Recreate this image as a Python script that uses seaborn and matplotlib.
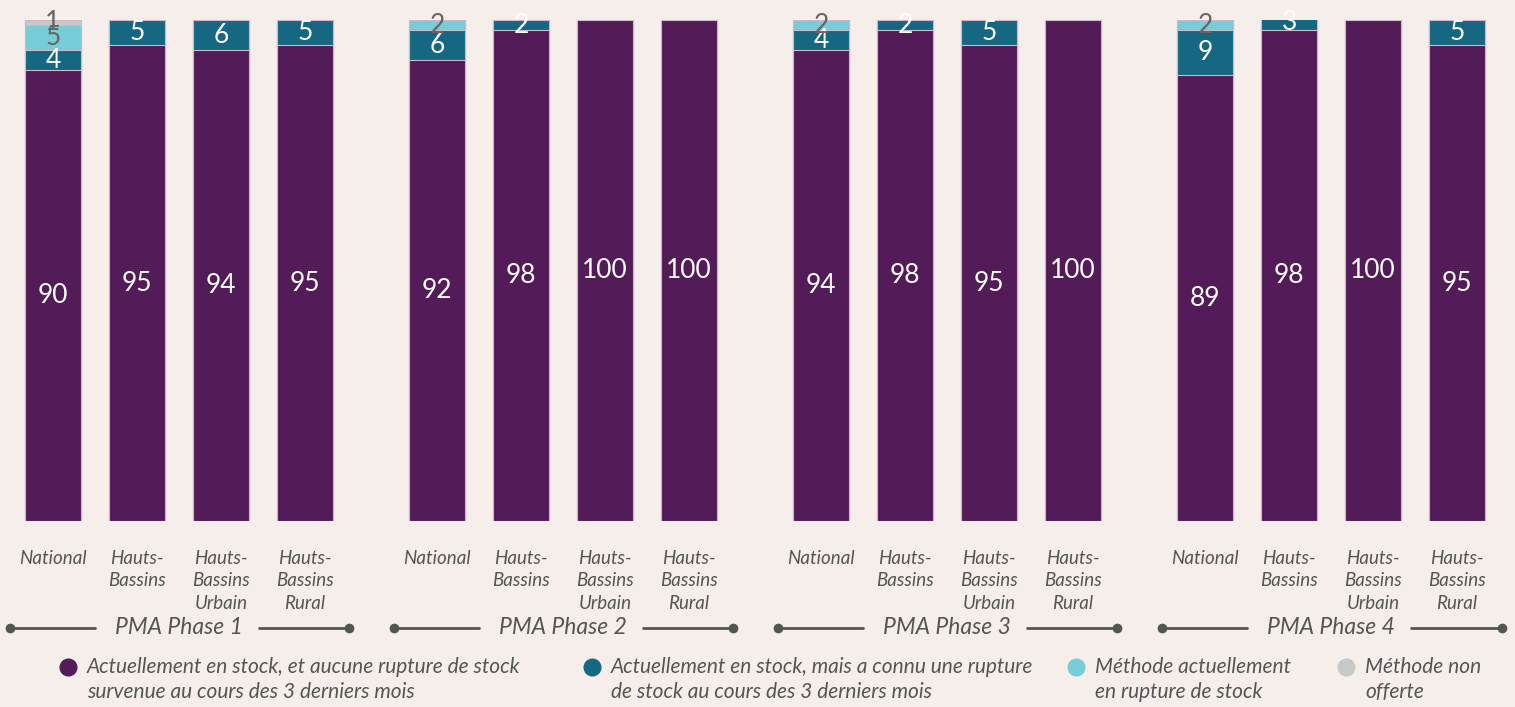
import numpy as np
import pandas as pd
import seaborn as sns
import matplotlib.pyplot as plt
from matplotlib.lines import Line2D
import matplotlib.transforms as mtransforms

# values
phases = ["PMA Phase 1", "PMA Phase 2", "PMA Phase 3", "PMA Phase 4"]
zones = ["National", "Hauts-\nBassins", "Hauts-\nBassins\nUrbain", "Hauts-\nBassins\nRural"]

en_stock = [90, 95, 94, 95, 92, 98, 100, 100, 94, 98, 95, 100, 89, 98, 100, 95]
rupture_passee = [4, 5, 6, 5, 6, 2, 0, 0, 4, 2, 5, 0, 9, 3, 0, 5]
rupture_actuelle = [5, 0, 0, 0, 2, 0, 0, 0, 2, 0, 0, 0, 2, 0, 0, 0]
non_offerte = [1, 0, 0, 0, 0, 0, 0, 0, 0, 0, 0, 0, 0, 0, 0, 0]

series_names = [
    "Actuellement en stock, et aucune rupture de stock\nsurvenue au cours des 3 derniers mois",
    "Actuellement en stock, mais a connu une rupture\nde stock au cours des 3 derniers mois",
    "Méthode actuellement\nen rupture de stock",
    "Méthode non\nofferte",
]
colors = ["#531b57", "#166882", "#76cdd8", "#c8c8c8"]
label_colors = ["white", "white", "#666666", "#666666"]

bg = "#f5eeeb"
txt = "#555555"

sns.set_theme(style="white")
plt.rcParams["font.family"] = ["Lato", "DejaVu Sans"]

# bar positions: 4 groups of 4, extra gap between groups
group_step = 4.575
pos = [g * group_step + j for g in range(len(phases)) for j in range(len(zones))]

df = pd.DataFrame({
    "pos": pos,
    "s0": en_stock,
    "s1": rupture_passee,
    "s2": rupture_actuelle,
    "s3": non_offerte,
})
cols = ["s0", "s1", "s2", "s3"]
cum = df[cols].cumsum(axis=1)

fig = plt.figure(figsize=(15.15, 7.07), dpi=100, facecolor=bg)
ax = fig.add_axes([0, 0.2631, 1, 0.7086])
ax.set_facecolor(bg)

# draw stacked bars by overlaying cumulative totals (largest first)
for k in range(3, -1, -1):
    sns.barplot(x=df["pos"], y=cum[cols[k]], native_scale=True, color=colors[k],
                saturation=1, width=0.667, errorbar=None, edgecolor="#cdb7c9",
                linewidth=0.8, ax=ax)

# value labels
for i in range(len(df)):
    bottom = 0
    for k, c in enumerate(cols):
        v = df[c].iloc[i]
        if v > 0:
            ax.text(df["pos"].iloc[i], bottom + v / 2, f"{v}", ha="center", va="center",
                    color=label_colors[k], fontsize=19, clip_on=False)
        bottom += v

ax.set_xlim(-0.631, pos[-1] + 0.69)
ax.set_ylim(0, 100)
ax.set_xlabel("")
ax.set_ylabel("")
ax.set_yticks([])
ax.set_xticks(pos)
ax.set_xticklabels(zones * len(phases), fontsize=13.5, color=txt, style="italic",
                   linespacing=1.38, va="top")
ax.tick_params(axis="x", length=0, pad=21)
sns.despine(ax=ax, left=True, bottom=True)

# group brackets under the tick labels
trans = mtransforms.blended_transform_factory(ax.transData, ax.transAxes)
ly = -0.2136
for g, name in enumerate(phases):
    x0 = g * group_step
    ax.plot([x0 - 0.51, x0 + 0.5], [ly, ly], color=txt, lw=2, transform=trans, clip_on=False)
    ax.plot([x0 + 2.45, x0 + 3.53], [ly, ly], color=txt, lw=2, transform=trans, clip_on=False)
    ax.plot([x0 - 0.51, x0 + 3.53], [ly, ly], "o", color=txt, ms=6, transform=trans, clip_on=False)
    ax.text(x0 + 1.5, ly, name, ha="center", va="center", fontsize=16.5, style="italic",
            color=txt, transform=trans)

# legend, drawn by hand to keep markers on the first line
leg_x = [68, 592, 1076, 1346]
W, H = 1515, 707
for k in range(4):
    fig.add_artist(Line2D([leg_x[k] / W], [1 - 667 / H], marker="o", ms=12, color=colors[k],
                          transform=fig.transFigure))
    fig.text((leg_x[k] + 19) / W, 1 - 657 / H, series_names[k], ha="left", va="top",
             fontsize=15, style="italic", color=txt, linespacing=1.32)

fig.savefig("out.png", dpi=100, facecolor=bg)
